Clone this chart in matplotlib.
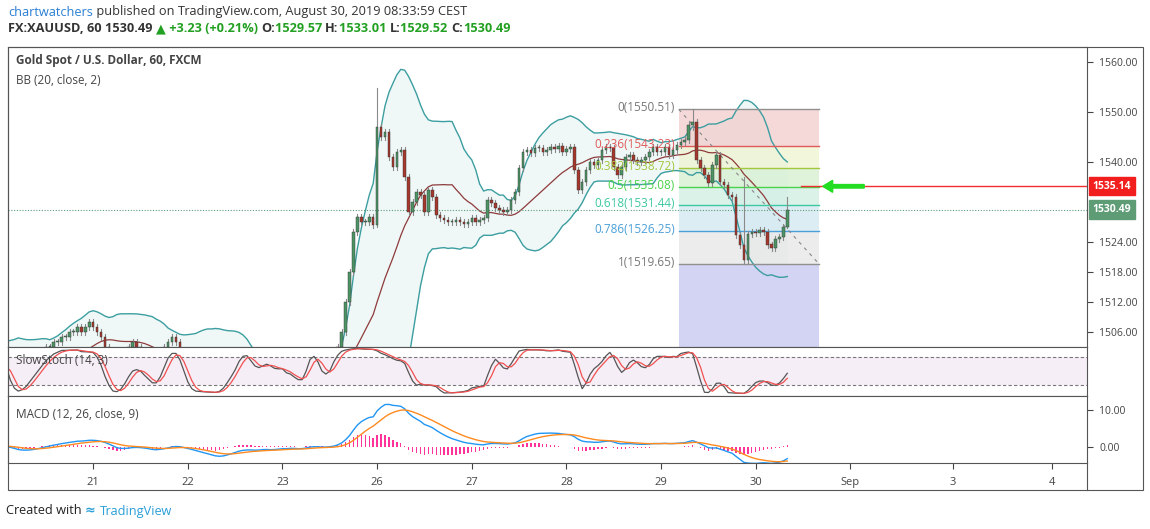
import numpy as np
import pandas as pd
import matplotlib
matplotlib.use("Agg")
import matplotlib.pyplot as plt
from matplotlib.patches import Rectangle, FancyArrow

# ---------------- data (hourly closes, XAUUSD 60) ----------------
warmup = [1500, 1501, 1502, 1501, 1503, 1502, 1500, 1499, 1500, 1501, 1503, 1504,
          1502, 1501, 1500, 1499, 1500, 1501]
aug20 = [1504, 1502, 1500, 1498, 1497, 1496, 1497, 1498, 1499, 1500, 1501, 1502,
         1503, 1503, 1504, 1504, 1505, 1505, 1506, 1506, 1507, 1506, 1507, 1508]
aug21 = [1507, 1506, 1505, 1503, 1501, 1499, 1498, 1500, 1502, 1503, 1504, 1503,
         1502, 1501, 1500, 1499, 1500, 1502, 1503, 1504, 1505, 1504, 1502, 1500]
aug22 = [1499, 1498, 1497, 1496, 1495, 1494, 1493, 1492, 1493, 1495, 1497, 1498,
         1499, 1500, 1499, 1498, 1497, 1496, 1497, 1498, 1497, 1496, 1497, 1498]
aug23 = [1498, 1497, 1498, 1497, 1496, 1497, 1499, 1500, 1499, 1498, 1497, 1498,
         1499, 1500, 1503, 1506, 1512, 1518, 1526, 1529, 1528, 1528, 1529, 1527.5]
aug26 = [1547, 1545, 1546, 1541, 1539, 1542, 1542.5, 1537, 1530, 1532, 1534, 1533.5,
         1530, 1534.4, 1533, 1529.4, 1528.8, 1528.4, 1528, 1528, 1528.4, 1528, 1527.6, 1528]
aug27 = [1528.8, 1528, 1528.4, 1528.8, 1532.4, 1531.8, 1530.8, 1530.4, 1530, 1530.4, 1532.4, 1534,
         1538.8, 1542, 1542.4, 1541.8, 1542.8, 1542.8, 1542, 1542.4, 1543, 1542.6, 1543.2, 1542]
aug28 = [1542.6, 1543, 1538.4, 1534.5, 1536, 1538.5, 1540, 1539.5, 1540.5, 1542.5, 1543, 1542.8,
         1539, 1537.5, 1539, 1541, 1541.5, 1540.5, 1540, 1540.5, 1541, 1542, 1543, 1542]
aug29 = [1542, 1543, 1541.5, 1542.5, 1543.5, 1544, 1544.5, 1547.4, 1548, 1540.4, 1538.8, 1537.4,
         1535.8, 1539.4, 1541.4, 1536, 1535.4, 1533.4, 1533, 1525.4, 1523.4, 1520.5, 1525.6, 1526]
aug30 = [1525.8, 1526.4, 1526, 1523.5, 1522.8, 1524.6, 1525, 1527, 1530.49]
closes = warmup + aug20 + aug21 + aug22 + aug23 + aug26 + aug27 + aug28 + aug29 + aug30
first_bar = -42
# notable wick extremes: bar index -> (high, low)
wick_extremes = {72: (1554.9, 1527.0), 152: (1550.51, 1546.5), 165: (1537.0, 1519.65),
                 176: (1533.01, 1526.8)}

day_ticks = [0, 24, 48, 72, 96, 120, 144, 168, 192, 218, 243]
day_labels = ["21", "22", "23", "26", "27", "28", "29", "30", "Sep", "3", "4"]
price_ticks = [1506, 1512, 1518, 1524, 1540, 1550, 1560]
macd_ticks = [0, 10]
fib_ratios = [0, 0.236, 0.382, 0.5, 0.618, 0.786, 1]
fib_high, fib_low = 1550.51, 1519.65
fib_start, fib_end = 148.5, 184
target_price = 1535.14
last_price = 1530.49

# ---------------- derived series ----------------
c = pd.Series(closes, dtype=float)
bars = np.arange(first_bar, first_bar + len(c))
o = c.shift(1).fillna(c.iloc[0])
h = np.maximum(o, c) + 0.6
l = np.minimum(o, c) - 0.6
for b, (hh, ll) in wick_extremes.items():
    i = b - first_bar
    h[i] = hh
    l[i] = ll
h = pd.Series(h); l = pd.Series(l)

basis = c.rolling(20).mean()
sd = c.rolling(20).std(ddof=0)
upper, lower = basis + 2 * sd, basis - 2 * sd

raw = 100 * (c - l.rolling(14).min()) / (h.rolling(14).max() - l.rolling(14).min())
k = raw.rolling(3).mean()
d = k.rolling(3).mean()

macd = c.ewm(span=12, adjust=False).mean() - c.ewm(span=26, adjust=False).mean()
signal = macd.ewm(span=9, adjust=False).mean()
hist = macd - signal

# ---------------- figure ----------------
W, H = 1150, 529
fig = plt.figure(figsize=(W / 100, H / 100), dpi=100)
plt.rcParams["font.family"] = ["Open Sans", "DejaVu Sans"]

def ax_at(x0, y0, x1, y1):
    return fig.add_axes([x0 / W, 1 - y1 / H, (x1 - x0) / W, (y1 - y0) / H])

XL = (-21.6, 252)
ax = ax_at(8, 47, 1087, 347)
ax2 = ax_at(8, 347, 1087, 396)
ax3 = ax_at(8, 396, 1087, 463)
for a in (ax, ax2, ax3):
    a.set_xlim(*XL)
    a.set_xticks([])
    for s in a.spines.values():
        s.set_color("#555555"); s.set_linewidth(0.8)
    a.yaxis.tick_right()
    a.tick_params(axis="y", labelsize=7.5, colors="#444444", length=4, pad=5)

# main pane
ax.set_ylim(1503, 1560 + 15 / 5)
ax.fill_between(bars, upper, lower, color="#e6f3f3", alpha=0.6, lw=0)
ax.plot(bars, upper, color="#3c9ea0", lw=1)
ax.plot(bars, lower, color="#3c9ea0", lw=1)
ax.plot(bars, basis, color="#8e3b3b", lw=0.9)

fib_fill = ["#f2cccc", "#eef3cf", "#d5f0cf", "#cfeee2", "#d2e7f1", "#e6e6e6"]
fib_line = ["#909090", "#e05a5a", "#a2c73e", "#4ad24a", "#3cc8a0", "#4a9fd8", "#909090"]
lv = [fib_high - r * (fib_high - fib_low) for r in fib_ratios]
for i in range(6):
    ax.add_patch(Rectangle((fib_start, lv[i + 1]), fib_end - fib_start, lv[i] - lv[i + 1],
                           color=fib_fill[i], alpha=0.75, lw=0, zorder=1))
ax.add_patch(Rectangle((fib_start, 1500), fib_end - fib_start, fib_low - 1500,
                       color="#d3d3f3", lw=0, zorder=1))
for r, v, col in zip(fib_ratios, lv, fib_line):
    ax.plot([fib_start, fib_end], [v, v], color=col, lw=1, zorder=2)
    lab = f"{r:g}({v:.2f})"
    ax.text(fib_start - 1, v + 0.3, lab, color=col if col != "#909090" else "#777777",
            fontsize=8.5, ha="right", va="center", zorder=6)
ax.plot([fib_start, fib_end], [fib_high, fib_low], color="#888888", lw=0.8, ls=(0, (3, 4)), zorder=2)

# candles
for b, oo, cc, hh, ll in zip(bars, o, c, h, l):
    col = "#4c9463" if cc >= oo else "#a5372d"
    ax.plot([b, b], [ll, hh], color="#8a8a8a", lw=0.8, zorder=3)
    ax.add_patch(Rectangle((b - 0.32, min(oo, cc)), 0.64, max(abs(cc - oo), 0.15),
                           facecolor=col, edgecolor="#333333", lw=0.3, zorder=4))

ax.axhline(last_price, color="#5a9e78", lw=0.8, ls=(0, (1, 1.5)), zorder=2)
ax.plot([179.5, XL[1]], [target_price, target_price], color="#f03030", lw=1, zorder=5)
ax.add_patch(FancyArrow(195.5, target_price, -8, 0, width=0.7, head_width=2.4,
                        head_length=2.5, color="#22dd22", zorder=6))
ax.set_yticks(price_ticks)
ax.set_yticklabels([f"{t:.2f}" for t in price_ticks])
for val, fc in ((target_price, "#f21d1d"), (last_price, "#5e9c76")):
    ax.annotate(f"{val:.2f}", xy=(1.0, val), xycoords=("axes fraction", "data"),
                xytext=(4, 0), textcoords="offset points", ha="left", va="center",
                fontsize=7.5, color="white", fontweight="bold",
                bbox=dict(boxstyle="square,pad=0.35", fc=fc, ec=fc))
ax.text(0.007, 0.955, "Gold Spot / U.S. Dollar, 60, FXCM", transform=ax.transAxes,
        fontsize=8.5, fontweight="bold", color="#444444", va="center")
ax.text(0.007, 0.89, "BB (20, close, 2)", transform=ax.transAxes,
        fontsize=8.5, color="#444444", va="center")

# stoch pane
ax2.set_ylim(-3, 101)
ax2.set_yticks([])
ax2.axhspan(20, 80, color="#f6eef6", lw=0)
for v in (20, 80):
    ax2.axhline(v, color="#777777", lw=0.8, ls=(0, (3, 2)))
ax2.plot(bars, k, color="#555555", lw=0.9)
ax2.plot(bars, d, color="#f05050", lw=0.9)
ax2.text(0.007, 0.72, "SlowStoch (14, 3)", transform=ax2.transAxes,
         fontsize=8.5, color="#444444", va="center")

# macd pane
ax3.set_ylim(-4.3, 13.8)
ax3.bar(bars, hist, width=0.35, color="#ff3399")
ax3.plot(bars, macd, color="#2196f3", lw=1)
ax3.plot(bars, signal, color="#ff8a1f", lw=1)
ax3.set_yticks(macd_ticks)
ax3.set_yticklabels([f"{t:.2f}" for t in macd_ticks])
ax3.text(0.007, 0.72, "MACD (12, 26, close, 9)", transform=ax3.transAxes,
         fontsize=8.5, color="#444444", va="center")
ax3.set_xticks(day_ticks)
ax3.set_xticklabels(day_labels)
ax3.tick_params(axis="x", labelsize=8, colors="#444444", length=4, pad=6)

# outer frame
fig.add_artist(Rectangle((8 / W, 1 - 490 / H), 1135 / W, 443 / H, transform=fig.transFigure,
                         fill=False, ec="#555555", lw=0.8))
fig.add_artist(plt.Line2D([1087 / W, 1087 / W], [1 - 490 / H, 1 - 463 / H],
                          transform=fig.transFigure, color="#555555", lw=0.8))

# header: sequential text pieces
renderer = fig.canvas.get_renderer()
def seq(x, y, pieces, size=9.2):
    for t, col, wt, fam in pieces:
        kw = dict(color=col, fontsize=size, fontweight=wt, va="center")
        if fam:
            kw["family"] = fam
        tx = fig.text(x / W, 1 - y / H, t, **kw)
        x += tx.get_window_extent(renderer).width
seq(8, 12, [("chartwatchers", "#2a7fd4", "normal", None),
            (" published on TradingView.com, August 30, 2019 08:33:59 CEST", "#333333", "normal", None)])
G, K = "#22a022", "#333333"
seq(8, 29, [("FX:XAUUSD, 60 ", K, "bold", None), ("1530.49 ", K, "bold", None),
            ("\u25b2", G, "bold", "DejaVu Sans"), (" +3.23 (+0.21%) ", G, "bold", None),
            ("O:", K, "bold", None), ("1529.57 ", G, "bold", None),
            ("H:", K, "bold", None), ("1533.01 ", G, "bold", None),
            ("L:", K, "bold", None), ("1529.52 ", G, "bold", None),
            ("C:", K, "bold", None), ("1530.49", G, "bold", None)])
seq(6, 511, [("Created with ", "#222222", "normal", None), ("\u2248 ", "#2a9fd8", "bold", "DejaVu Sans"),
             ("TradingView", "#2a9fd8", "normal", None)])

fig.savefig("out.png", dpi=100, facecolor="white")
